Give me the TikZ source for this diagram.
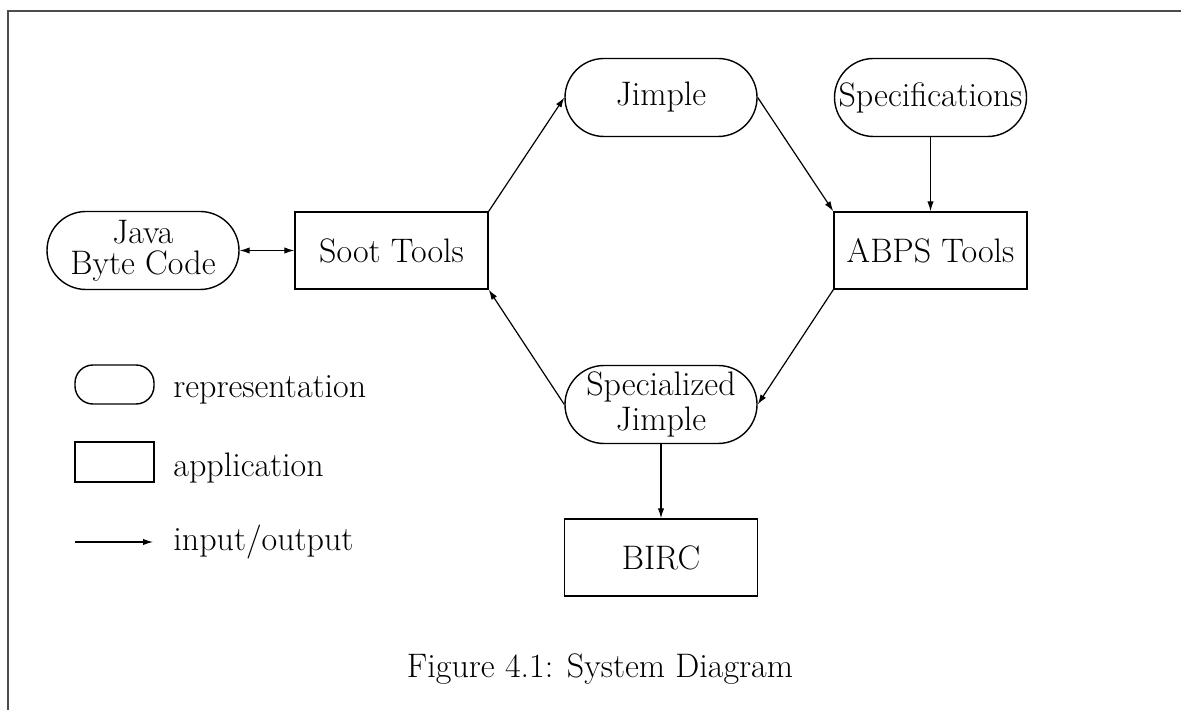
\documentclass[tikz,border=0pt]{standalone}
\usetikzlibrary{arrows.meta}
\begin{document}
\begin{tikzpicture}[x=0.5pt,y=-0.5pt,
  font=\fontsize{17}{20}\selectfont,
  repbox/.style={draw,rectangle,rounded corners=19.5pt,line width=0.7pt,
    minimum width=96pt,minimum height=39pt,inner sep=0.5pt,align=center},
  appbox/.style={draw,rectangle,line width=0.7pt,minimum width=96.5pt,
    minimum height=38.5pt,inner sep=1pt,align=center},
  flow/.style={line width=0.6pt,-{Latex[length=5pt,width=3.2pt]}},
  frameline/.style={line width=1pt,draw=black!70},
  legendtext/.style={anchor=base west,inner sep=0pt}]
  \useasboundingbox (0,0) rectangle (1181,710);

  % page frame
  \coordinate (ftr) at (1181,11);
  \coordinate (ftl) at (8,11);
  \coordinate (fbl) at (8,710);
  \draw[frameline] (ftr) -- (ftl) -- (fbl);

  % representations and applications
  \node[repbox] (java) at (143,250.5) {Java\\[-4.5pt]Byte Code};
  \node[appbox] (soot) at (391.5,250.5) {Soot Tools};
  \node[repbox] (jimple) at (661,97.5) {Jimple};
  \node[repbox] (spec) at (930.5,97.5) {Specifications};
  \node[appbox] (abps) at (930.5,250.5) {ABPS Tools};
  \node[repbox] (sjimple) at (661,404.5) {Specialized\\[-2.5pt]Jimple};
  \node[appbox] (birc) at (661,557.5) {BIRC};

  % data flow
  \draw[line width=0.6pt,{Latex[length=5pt,width=3.2pt]}-{Latex[length=5pt,width=3.2pt]}]
    (java.east) -- (soot.west);
  \draw[flow] (soot.north east) -- (jimple.west);
  \draw[flow] (jimple.east) -- (abps.north west);
  \draw[flow] (spec.south) -- (abps.north);
  \draw[flow] (abps.south west) -- (sjimple.east);
  \draw[flow] (sjimple.west) -- (soot.south east);
  \draw[flow] (sjimple.south) -- (birc.north);

  % legend
  \node[draw,rectangle,rounded corners=9pt,minimum width=39.5pt,minimum height=19.5pt,
    line width=0.7pt] (lrep) at (114.5,384.5) {};
  \node[draw,rectangle,minimum width=39.5pt,minimum height=20pt,line width=0.7pt]
    (lapp) at (114.5,462) {};
  \coordinate (larrs) at (75,542);
  \coordinate (larre) at (153,542);
  \draw[flow] (larrs) -- (larre);
  \node[legendtext] (trep) at (173,398) {representation};
  \node[legendtext] (tapp) at (173,476) {application};
  \node[legendtext] (tio) at (173,550) {input/output};

  % caption
  \node[anchor=base,inner sep=0pt] (caption) at (600,677) {Figure 4.1: System Diagram};
\end{tikzpicture}
\end{document}
